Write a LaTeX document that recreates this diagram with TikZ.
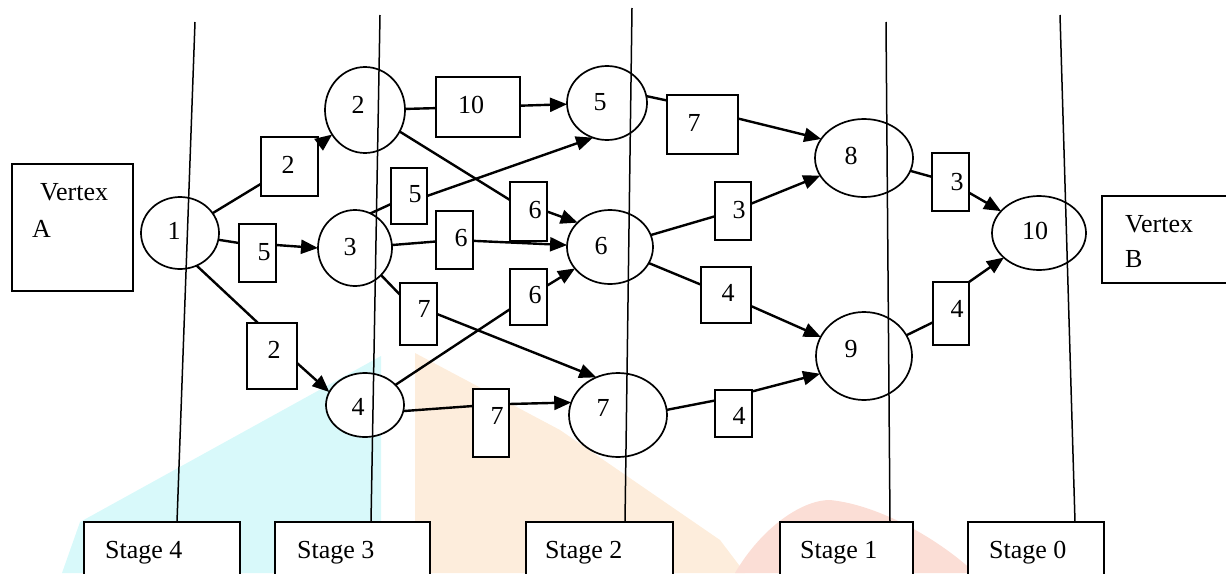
\documentclass[tikz,border=0pt]{standalone}
\usepackage{fontspec}
\setmainfont{Liberation Serif}
\usetikzlibrary{shapes.geometric,arrows.meta}
\definecolor{wmcyan}{RGB}{216,249,250}
\definecolor{wmorange}{RGB}{253,237,220}
\definecolor{wmred}{RGB}{251,222,214}
\begin{document}
\begin{tikzpicture}[x=1pt,y=-1pt,
  every node/.style={font=\fontsize{26pt}{30pt}\selectfont},
  vtx/.style={draw, fill=white, ellipse, line width=1.7pt, inner sep=0pt, outer sep=0pt},
  wbox/.style={draw, rectangle, fill=white, line width=1.6pt, inner sep=0pt, outer sep=0pt},
  sbox/.style={draw, rectangle, fill=white, line width=1.6pt, inner sep=0pt, outer sep=0pt, anchor=north west},
  seg/.style={line width=2.4pt},
  arr/.style={line width=2.4pt, -{Triangle[length=17pt,width=14pt]}},
  stl/.style={line width=1.5pt},
  txt/.style={inner sep=0pt, anchor=base west},
  lab/.style={inner sep=0pt}
]
\useasboundingbox (0,0) rectangle (1226,573);
\clip (0,0) rectangle (1226,573);

% faint watermark behind the diagram
\fill[wmcyan] (62,573) -- (80,522) -- (381,356) -- (381,573) -- cycle;
\fill[wmorange] (415,353) -- (560,430) -- (720,540) -- (745,573) -- (415,573) -- cycle;
\fill[wmred] (735,573) .. controls (760,530) and (800,500) .. (830,500) .. controls (880,505) and (940,540) .. (975,573) -- cycle;

% vertices
\node[vtx, minimum width=78pt, minimum height=72pt, label={[lab,xshift=-6pt,yshift=2pt]center:1}] (n1) at (180,233) {};
\node[vtx, minimum width=80pt, minimum height=86pt, label={[lab,xshift=-7pt,yshift=5pt]center:2}] (n2) at (365,110) {};
\node[vtx, minimum width=74pt, minimum height=76pt, label={[lab,xshift=-5pt,yshift=1pt]center:3}] (n3) at (355,248) {};
\node[vtx, minimum width=78pt, minimum height=64pt, label={[lab,xshift=-7pt,yshift=-2pt]center:4}] (n4) at (365,405) {};
\node[vtx, minimum width=80pt, minimum height=74pt, label={[lab,xshift=-7pt,yshift=1pt]center:5}] (n5) at (607,103) {};
\node[vtx, minimum width=86pt, minimum height=74pt, label={[lab,xshift=-9pt,yshift=1pt]center:6}] (n6) at (610,247) {};
\node[vtx, minimum width=98pt, minimum height=84pt, label={[lab,xshift=-15pt,yshift=7pt]center:7}] (n7) at (618,415) {};
\node[vtx, minimum width=98pt, minimum height=78pt, label={[lab,xshift=-13pt,yshift=2pt]center:8}] (n8) at (864,158) {};
\node[vtx, minimum width=96pt, minimum height=88pt, label={[lab,xshift=-13pt,yshift=7pt]center:9}] (n9) at (864,356) {};
\node[vtx, minimum width=94pt, minimum height=74pt, label={[lab,xshift=-4pt,yshift=2pt]center:10}] (n10) at (1039,233) {};

% stage lines (drawn over the vertices)
\coordinate (t4) at (195,22);  \coordinate (b4) at (177,522);
\coordinate (t3) at (380,15);  \coordinate (b3) at (371,522);
\coordinate (t2) at (632,8);   \coordinate (b2) at (625,522);
\coordinate (t1) at (886,22);  \coordinate (b1) at (890,522);
\coordinate (t0) at (1060,15); \coordinate (b0) at (1075,522);
\foreach \s in {4,3,2,1,0} { \draw[stl] (t\s) -- (b\s); }

% stage boxes
\node[sbox, minimum width=156pt, minimum height=80pt] (st4) at (84,522) {};
\node[sbox, minimum width=155pt, minimum height=80pt] (st3) at (275,522) {};
\node[sbox, minimum width=147pt, minimum height=80pt] (st2) at (526,522) {};
\node[sbox, minimum width=133pt, minimum height=80pt] (st1) at (780,522) {};
\node[sbox, minimum width=136pt, minimum height=80pt] (st0) at (968,522) {};
\node[txt] (st4t) at (105,558) {Stage 4};
\node[txt] (st3t) at (297,558) {Stage 3};
\node[txt] (st2t) at (545,558) {Stage 2};
\node[txt] (st1t) at (800,558) {Stage 1};
\node[txt] (st0t) at (989,558) {Stage 0};

% vertex boxes
\node[sbox, minimum width=121pt, minimum height=127pt] (va) at (12,164) {};
\node[txt] (vat1) at (40,200) {Vertex};
\node[txt] (vat2) at (32,237) {A};
\node[sbox, minimum width=140pt, minimum height=87pt] (vb) at (1102,196) {};
\node[txt] (vbt1) at (1125,232) {Vertex};
\node[txt] (vbt2) at (1125,267) {B};

% weight boxes
\node[wbox, minimum width=57pt, minimum height=59pt, label={[lab,xshift=-1.5pt,yshift=1.5pt]center:2}] (w12) at (289.5,166.5) {};
\node[wbox, minimum width=37pt, minimum height=58pt, label={[lab,xshift=6.5pt,yshift=1pt]center:5}] (w13) at (257.5,253) {};
\node[wbox, minimum width=50pt, minimum height=66pt, label={[lab,xshift=2pt,yshift=6pt]center:2}] (w14) at (272,356) {};
\node[wbox, minimum width=84pt, minimum height=60pt, label={[lab,xshift=-7pt,yshift=2pt]center:10}] (w25) at (478,107) {};
\node[wbox, minimum width=36pt, minimum height=56pt, label={[lab,xshift=6pt,yshift=2pt]center:5}] (w35) at (409,196) {};
\node[wbox, minimum width=37pt, minimum height=59pt, label={[lab,xshift=6.5pt,yshift=1.5pt]center:6}] (w26) at (528.5,211.5) {};
\node[wbox, minimum width=37pt, minimum height=58pt, label={[lab,xshift=6.5pt,yshift=2pt]center:6}] (w36) at (454.5,240) {};
\node[wbox, minimum width=37pt, minimum height=56pt, label={[lab,xshift=6.5pt,yshift=2pt]center:6}] (w46) at (528.5,297) {};
\node[wbox, minimum width=37pt, minimum height=62pt, label={[lab,xshift=5.5pt,yshift=5pt]center:7}] (w37) at (418.5,314) {};
\node[wbox, minimum width=36pt, minimum height=68pt, label={[lab,xshift=6pt,yshift=7pt]center:7}] (w47) at (491,423) {};
\node[wbox, minimum width=71pt, minimum height=59pt, label={[lab,xshift=-8.5pt,yshift=1.5pt]center:7}] (w58) at (702.5,124.5) {};
\node[wbox, minimum width=36pt, minimum height=58pt, label={[lab,xshift=6pt,yshift=1pt]center:3}] (w68) at (733,211) {};
\node[wbox, minimum width=50pt, minimum height=56pt, label={[lab,xshift=2pt,yshift=2pt]center:4}] (w69) at (726,295) {};
\node[wbox, minimum width=37pt, minimum height=47pt, label={[lab,xshift=5.5pt,yshift=-2.5pt]center:4}] (w79) at (733.5,413.5) {};
\node[wbox, minimum width=37pt, minimum height=58pt, label={[lab,xshift=6.5pt,yshift=0pt]center:3}] (w810) at (950.5,182) {};
\node[wbox, minimum width=36pt, minimum height=63pt, label={[lab,xshift=6pt,yshift=4.5pt]center:4}] (w910) at (951,313.5) {};

% edges
\draw[seg] (n1) -- (w12);                         \draw[arr] (w12) -- (n2);
\draw[seg] (n1.350) -- ([yshift=10pt]w13.west);   \draw[arr] ([yshift=8pt]w13.east) -- (n3.west);
\draw[seg] (n1.297) -- ([xshift=-14pt]w14.north); \draw[arr] ([yshift=-7pt]w14.east) -- (n4.160);
\draw[seg] (n2) -- (w25);                         \draw[arr] (w25) -- (n5);
\draw[seg] (n2) -- (w26);                         \draw[arr] (w26.east) -- (n6.143);
\draw[seg] (n3.66) -- ([yshift=-8pt]w35.west);    \draw[arr] (w35.east) -- (n5.248);
\draw[seg] (n3) -- (w36);                         \draw[arr] (w36) -- (n6);
\draw[seg] (n3) -- (w37);                         \draw[arr] (w37.east) -- (n7.120);
\draw[seg] (n4) -- (w46);                         \draw[arr] (w46) -- (n6);
\draw[seg] (n4.351) -- ([yshift=17pt]w47.west);   \draw[arr] ([yshift=19pt]w47.east) -- (n7.165);
\draw[seg] (n5.10) -- ([yshift=24pt]w58.west);    \draw[arr] ([yshift=6pt]w58.east) -- (n8.156);
\draw[seg] (n6) -- (w68);                         \draw[arr] (w68) -- (n8);
\draw[seg] (n6) -- (w69);                         \draw[arr] (w69) -- (n9);
\draw[seg] (n7.6) -- ([yshift=13pt]w79.west);     \draw[arr] ([yshift=22pt]w79.east) -- (n9.202);
\draw[seg] (n8) -- (w810);                        \draw[arr] (w810) -- (n10);
\draw[seg] (n9) -- (w910);                        \draw[arr] (w910.north east) -- (n10);
\end{tikzpicture}
\end{document}
